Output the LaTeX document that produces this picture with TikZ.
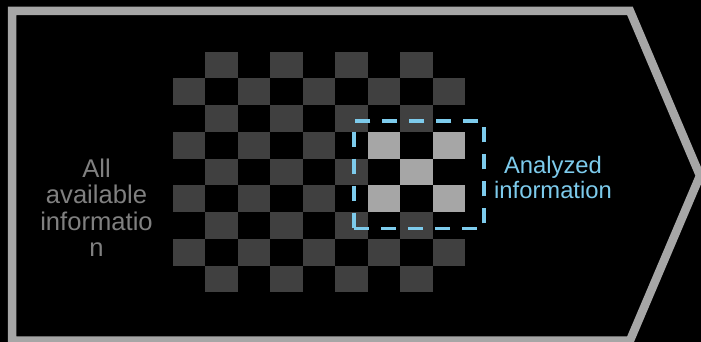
\documentclass[tikz,border=0pt]{standalone}
\usepackage{fontspec}
\setmainfont{Liberation Sans}
\definecolor{frame}{HTML}{A6A6A6}
\definecolor{darkcell}{HTML}{404040}
\definecolor{lightcell}{HTML}{A6A6A6}
\definecolor{skyb}{HTML}{7DCBEC}
\definecolor{greytext}{HTML}{808080}
\tikzset{
  outline/.style={draw=frame, line width=8.5pt, line join=miter},
  cellD/.style={fill=darkcell},
  cellL/.style={fill=lightcell},
  selbox/.style={draw=skyb, line width=3.3pt, dash pattern=on 15pt off 12pt},
  lefttext/.style={text=greytext, font=\fontsize{25.6}{26.5}\selectfont, inner sep=0pt, anchor=base},
  righttext/.style={text=skyb, font=\fontsize{23.8}{25}\selectfont, inner sep=0pt, anchor=base}
}
\begin{document}
\begin{tikzpicture}[x=1pt,y=-1pt]
\useasboundingbox (0,0) rectangle (701,342);
\fill[black] (0,0) rectangle (701,342);
% chevron outline
\draw[outline] (630,11) -- (700,175.7) -- (630,340.5) -- (12,340.5) -- (12,11) -- cycle;
% checkerboard
\foreach \r in {0,...,8}{
  \foreach \c in {0,...,8}{
    \pgfmathtruncatemacro\pr{mod(\r+\c,2)}
    \ifnum\pr=1
      \fill[cellD] ({172.7+32.48*\c},{51.7+26.73*\r}) rectangle ++(32.48,26.73);
    \fi
  }
}
% highlighted cells
\foreach \r/\c in {3/6,3/8,4/7,5/6,5/8}{
  \fill[cellL] ({172.7+32.48*\c},{51.7+26.73*\r}) rectangle ++(32.48,26.73);
}
% dashed selection box
\node[selbox, minimum width=130pt, minimum height=107.4pt, inner sep=0pt, anchor=north west] (sel) at (352.3,119.3) {};
% texts
\node[lefttext] (l1) at (96.5,177.3) {All};
\node[lefttext] (l2) at (96.5,203.8) {available};
\node[lefttext] (l3) at (96.5,230.3) {informatio};
\node[lefttext] (l4) at (96.5,256.8) {n};
\node[righttext] (r1) at (553,173.3) {Analyzed};
\node[righttext] (r2) at (553,198.3) {information};
\end{tikzpicture}
\end{document}
